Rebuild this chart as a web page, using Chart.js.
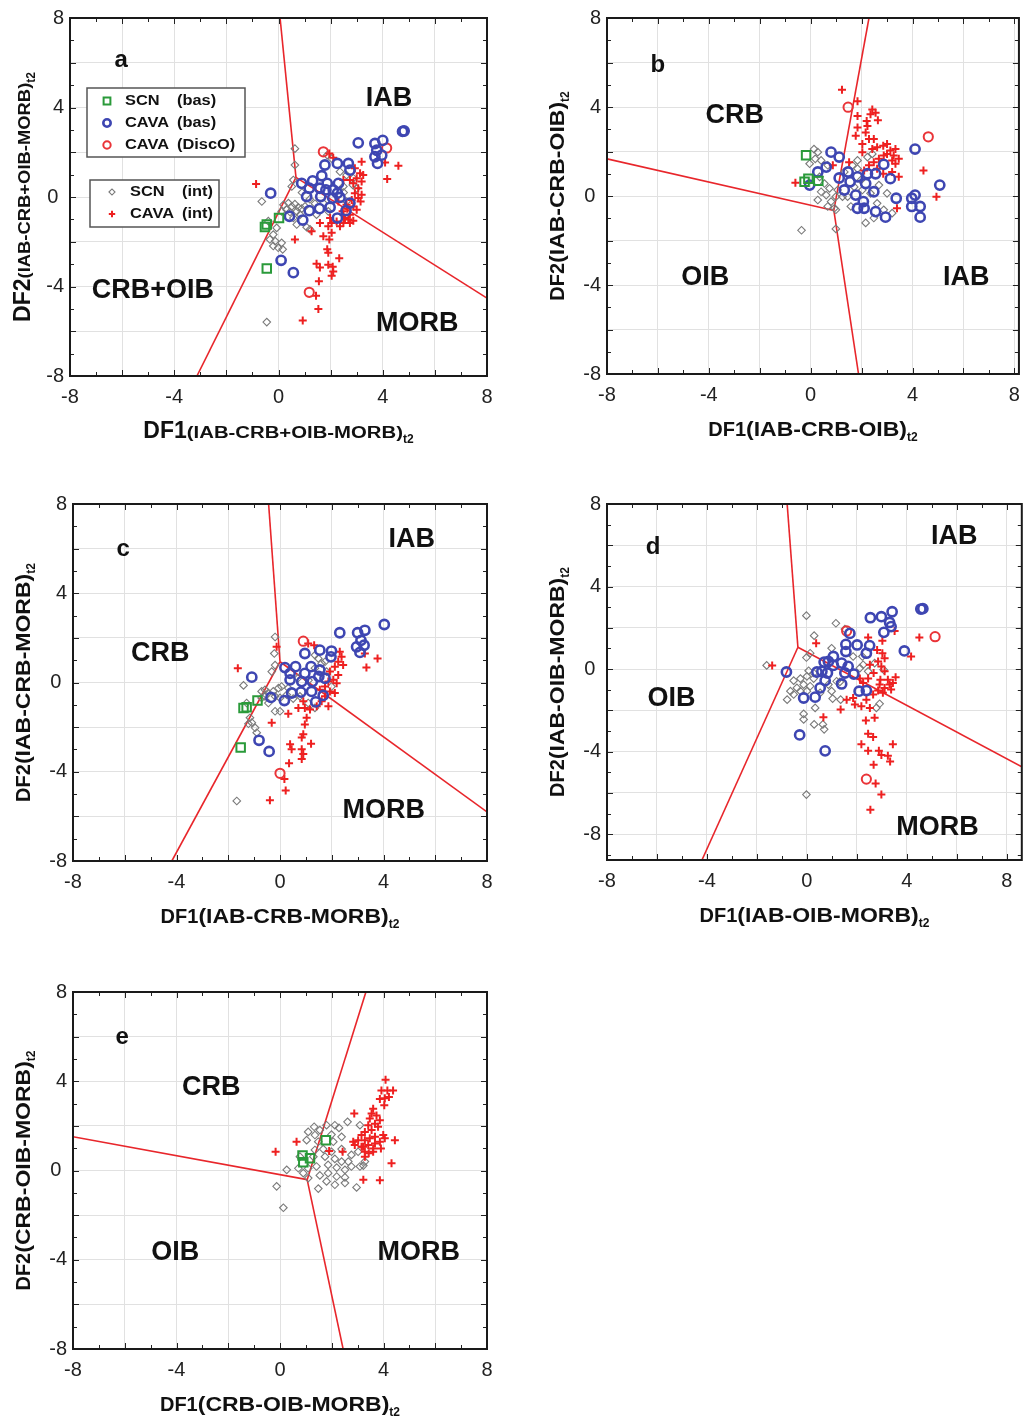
<!DOCTYPE html>
<html>
<head>
<meta charset="utf-8">
<script src="https://cdn.jsdelivr.net/npm/chart.js@4.4.1/dist/chart.umd.min.js"></script>
<style>
  body { margin: 0; background: #fff; width: 1029px; height: 1417px; position: relative; overflow: hidden; }
  canvas { position: absolute; }
</style>
</head>
<body>
<canvas id="pa" width="510" height="460" style="left:0px;top:0px"></canvas>
<canvas id="pb" width="509" height="460" style="left:520px;top:0px"></canvas>
<canvas id="pc" width="510" height="460" style="left:0px;top:486px"></canvas>
<canvas id="pd" width="509" height="460" style="left:520px;top:486px"></canvas>
<canvas id="pe" width="510" height="443" style="left:0px;top:974px"></canvas>
<script>
// axis ticks
var tickLabels = [-8, -4, 0, 4, 8];
var gridValues = [-8, -6, -4, -2, 0, 2, 4, 6, 8];

// ---- panel a : DF1/DF2 (IAB-CRB+OIB-MORB)
var aScnBas = [[0.02, -0.94], [-0.45, -1.23], [-0.52, -1.34], [-0.45, -3.2]];
var aCavaBas = [[4.76, 2.93], [4.82, 2.95], [3.06, 2.42], [3.70, 2.39], [4.0, 2.53], [3.77, 2.09], [3.96, 1.87],
  [3.70, 1.80], [3.80, 1.50], [2.26, 1.50], [1.78, 1.43], [2.68, 1.50], [2.74, 1.20], [1.31, 0.72], [1.66, 0.95],
  [1.87, 0.61], [2.30, 0.61], [0.89, 0.61], [1.18, 0.39], [1.59, 0.39], [1.82, 0.32], [2.10, 0.32], [2.26, 0.17],
  [1.08, 0.02], [1.62, 0.02], [2.08, -0.05], [2.36, -0.02], [2.74, -0.27], [1.57, -0.52], [1.98, -0.46],
  [1.18, -0.61], [2.59, -0.61], [2.26, -0.94], [0.42, -0.86], [0.93, -1.03], [-0.30, 0.17], [0.10, -2.83], [0.57, -3.38]];
var aCavaDisco = [[1.72, 2.02], [4.15, 2.19], [1.18, -4.26]];
var aScnInt = [[0.63, 2.16], [0.63, 1.43], [0.57, 0.76], [0.51, 0.47], [-0.64, -0.2], [0.19, -0.35], [0.38, -0.27],
  [0.51, -0.42], [0.63, -0.32], [0.76, -0.46], [0.31, -0.57], [0.12, -0.64], [0.44, -0.67], [0.70, -0.64],
  [0.89, -0.52], [1.02, -0.42], [0.83, -0.79], [0.57, -0.94], [0.70, -1.23], [1.08, -1.35], [1.21, -1.45],
  [-0.07, -1.38], [-0.20, -1.68], [-0.33, -1.90], [-0.13, -1.97], [0.12, -2.05], [-0.20, -2.19], [-0.01, -2.27],
  [0.16, -2.34], [-0.39, -1.08], [2.36, 1.13], [2.61, 0.98], [2.87, 0.84], [2.85, 0.54], [2.49, 0.47], [1.72, -0.27],
  [1.91, -0.64], [1.46, -0.79], [2.61, -0.20], [3.0, 0.39], [1.87, 1.87], [2.04, 1.72], [0.9, 0.2], [1.2, -0.1],
  [1.4, -0.3], [2.5, 0.2], [-0.45, -5.59]];
var aCavaInt = [[-0.86, 0.58], [1.95, 1.94], [2.10, 1.75], [3.19, 1.57], [4.60, 1.40], [4.17, 0.81], [4.09, 1.54],
  [2.93, 1.28], [3.13, 1.06], [3.25, 0.98], [3.0, 0.84], [3.19, 0.69], [2.87, 0.61], [3.06, 0.39], [2.93, 0.17],
  [3.19, 0.10], [3.06, -0.05], [2.81, -0.13], [3.15, -0.20], [2.61, -0.35], [2.87, -0.42], [3.0, -0.57],
  [2.74, -0.79], [2.55, -0.94], [2.68, -1.01], [2.87, -1.06], [2.36, -1.31], [2.04, -1.16], [1.91, -1.31],
  [1.59, -1.16], [1.27, -1.53], [0.63, -1.90], [1.72, -1.75], [2.04, -1.60], [1.95, -1.90], [1.87, -2.34],
  [1.91, -2.49], [2.33, -2.74], [1.46, -2.98], [1.91, -3.03], [2.08, -3.12], [1.59, -3.15], [2.10, -3.33],
  [2.04, -3.52], [1.55, -3.77], [1.44, -4.41], [1.53, -5.0], [0.93, -5.52], [1.98, -0.94], [2.23, -1.09],
  [2.49, -0.79], [2.46, -0.64], [2.64, -0.52], [2.30, -0.20], [2.49, 0.76], [2.74, 0.76], [2.49, -1.16], [2.74, -1.16]];
var aLines = [[[0.06, 8], [0.67, 0.88]], [[0.67, 0.88], [8, -4.52]], [[0.67, 0.88], [-3.13, -8]]];

// ---- panel b : DF1/DF2 (IAB-CRB-OIB)
var bScnBas = [[-0.18, 1.83], [-0.24, 0.64], [-0.09, 0.78], [0.30, 0.68]];
var bCavaBas = [[0.80, 1.97], [1.12, 1.75], [0.61, 1.30], [0.28, 1.08], [-0.04, 0.49], [1.12, 0.81], [1.47, 1.08],
  [1.84, 0.86], [2.23, 1.0], [2.55, 1.0], [2.87, 1.42], [3.13, 0.78], [1.32, 0.27], [1.55, 0.64], [1.77, 0.04],
  [2.16, 0.56], [2.48, 0.19], [2.07, -0.25], [1.84, -0.55], [2.10, -0.55], [2.55, -0.70], [2.94, -0.95],
  [3.36, -0.10], [4.10, 2.11], [5.07, 0.49], [4.10, 0.04], [3.97, -0.10], [4.30, -0.47], [3.97, -0.47], [4.30, -0.95]];
var bCavaDisco = [[1.47, 3.99], [4.62, 2.66]];
var bScnInt = [[0.13, 2.11], [0.28, 1.97], [0.18, 1.67], [-0.04, 1.45], [0.41, 1.60], [0.67, 1.38], [0.35, 0.86],
  [0.54, 0.56], [0.74, 0.34], [0.41, 0.19], [0.28, -0.18], [0.61, 0.04], [0.80, -0.25], [0.99, -0.03], [0.67, -0.47],
  [0.93, -0.55], [1.06, 0.27], [1.25, -0.03], [0.99, -0.62], [2.16, -1.21], [2.48, -0.99], [2.87, -0.62],
  [2.61, -0.33], [2.35, 0.12], [2.03, 0.27], [1.97, 0.71], [2.23, 1.75], [2.42, 1.89], [1.64, 1.38], [1.84, 1.60],
  [2.68, 0.49], [3.0, 0.12], [3.20, -0.77], [-0.36, -1.54], [0.99, -1.48], [1.32, 1.08], [1.71, 0.41], [1.84, 1.23],
  [1.45, -0.03], [1.58, -0.47]];
var bCavaInt = [[1.23, 4.78], [1.84, 4.26], [1.84, 3.59], [1.84, 3.08], [1.77, 2.71], [2.23, 3.15], [2.42, 3.89],
  [2.35, 3.67], [2.55, 3.74], [2.64, 3.40], [2.20, 3.37], [2.16, 2.85], [2.29, 2.56], [2.03, 2.34], [2.48, 2.56],
  [2.42, 2.11], [2.03, 1.97], [2.61, 2.19], [2.85, 2.26], [3.0, 2.34], [3.13, 2.04], [3.0, 1.89], [3.33, 2.11],
  [3.26, 1.82], [2.87, 1.82], [2.68, 1.67], [3.20, 1.60], [3.33, 1.45], [3.46, 1.67], [2.48, 1.52], [2.29, 1.38],
  [2.61, 1.23], [2.10, 1.15], [3.20, 1.08], [3.46, 0.86], [2.85, 1.0], [3.39, -0.55], [4.43, 1.15], [4.94, -0.03],
  [1.51, 1.52], [0.87, 1.38], [-0.60, 0.60]];
var bLines = [[[2.29, 8], [0.91, -0.65]], [[0.91, -0.65], [-8, 1.67]], [[0.91, -0.65], [1.88, -8]]];

// ---- panel c : DF1/DF2 (IAB-CRB-MORB)
var cScnBas = [[-1.41, -1.14], [-1.29, -1.11], [-0.87, -0.81], [-1.52, -2.91]];
var cCavaBas = [[4.03, 2.60], [3.28, 2.34], [3.0, 2.23], [3.13, 1.89], [3.25, 1.67], [2.96, 1.60], [3.09, 1.35],
  [2.31, 2.23], [1.99, 1.41], [1.54, 1.45], [1.97, 1.15], [0.96, 1.30], [0.60, 0.71], [0.19, 0.67], [1.20, 0.71],
  [1.54, 0.56], [0.96, 0.41], [0.39, 0.41], [0.39, 0.12], [0.84, 0.04], [1.25, 0.04], [1.50, 0.27], [1.74, 0.19],
  [1.22, -0.40], [0.81, -0.43], [0.45, -0.47], [1.67, -0.58], [0.17, -0.81], [1.38, -0.87], [-0.35, -0.67],
  [-1.09, 0.24], [-0.81, -2.59], [-0.42, -3.09]];
var cCavaDisco = [[0.90, 1.85], [0.0, -4.07]];
var cScnInt = [[-0.19, 2.04], [-0.22, 1.30], [-0.19, 0.78], [-0.32, 0.49], [-1.41, -0.13], [-0.71, -0.40],
  [-0.58, -0.33], [-0.45, -0.47], [-0.26, -0.40], [-0.06, -0.25], [0.06, -0.18], [-0.19, -0.62], [0.0, -0.69],
  [0.26, -0.55], [0.32, -0.25], [-0.58, -0.62], [-0.71, -0.69], [-0.45, -0.92], [-0.19, -1.29], [0.0, -1.29],
  [-1.29, -0.92], [-1.16, -1.58], [-1.09, -1.80], [-0.96, -2.03], [-1.22, -1.85], [-0.90, -2.25], [0.51, -0.72],
  [1.35, 0.64], [1.61, 0.86], [1.48, 1.08], [1.74, 0.93], [1.35, 1.23], [1.80, 0.49], [1.99, -0.18], [0.77, -0.62],
  [1.09, -0.92], [1.35, -1.14], [0.7, 0.2], [1.1, 0.1], [-1.67, -5.31]];
var cCavaInt = [[-1.63, 0.64], [-0.13, 1.60], [1.09, 1.75], [1.32, 1.67], [2.31, 1.38], [2.38, 1.15], [2.25, 0.93],
  [2.44, 0.78], [2.12, 0.71], [1.93, 0.49], [2.25, 0.34], [2.06, 0.12], [1.87, 0.04], [2.19, -0.03], [1.74, -0.18],
  [1.54, -0.33], [1.93, -0.40], [2.12, -0.47], [1.74, -0.62], [1.61, -0.84], [1.87, -1.06], [1.42, -1.06],
  [1.16, -1.21], [0.96, -1.14], [0.90, -0.84], [0.71, -1.14], [0.32, -1.40], [-0.32, -1.80], [1.03, -1.58],
  [0.96, -1.88], [0.90, -2.32], [0.84, -2.47], [1.20, -2.74], [0.39, -2.77], [0.45, -2.99], [0.84, -2.99],
  [0.90, -3.21], [0.84, -3.43], [0.35, -3.62], [0.17, -4.32], [0.22, -4.84], [-0.39, -5.28], [3.34, 0.67],
  [3.77, 1.08], [3.28, 1.30]];
var cLines = [[[-0.44, 8], [0, 0.93]], [[0, 0.93], [8, -5.8]], [[0, 0.93], [-4.18, -8]]];

// ---- panel d : DF1/DF2 (IAB-OIB-MORB)
var dScnBas = [];
var dCavaBas = [[4.56, 2.91], [4.64, 2.93], [2.54, 2.49], [2.98, 2.54], [3.41, 2.78], [3.31, 2.26], [3.37, 2.06],
  [3.08, 1.78], [3.90, 0.88], [1.72, 1.73], [1.56, 1.20], [2.01, 1.17], [2.51, 1.14], [2.38, 0.77], [1.56, 0.85],
  [1.06, 0.61], [0.86, 0.37], [0.69, 0.34], [1.39, 0.29], [1.06, 0.18], [1.65, 0.13], [0.60, -0.11], [0.40, -0.14],
  [0.82, -0.19], [1.52, -0.19], [1.88, -0.24], [0.73, -0.56], [1.39, -0.72], [0.53, -0.91], [0.33, -1.36],
  [-0.13, -1.40], [2.09, -1.07], [2.38, -1.04], [-0.82, -0.14], [-0.29, -3.19], [0.73, -3.96]];
var dCavaDisco = [[1.59, 1.85], [5.13, 1.57], [2.38, -5.33]];
var dScnInt = [[-0.02, 2.59], [1.16, 2.22], [0.29, 1.62], [-1.61, 0.18], [-0.02, 0.56], [0.13, 0.77], [0.99, 1.01],
  [1.52, 1.94], [2.22, 0.61], [-0.53, -0.56], [-0.26, -0.46], [0.0, -0.35], [0.27, -0.46], [-0.40, -0.91],
  [-0.13, -0.75], [0.13, -0.83], [-0.66, -1.07], [-0.26, -1.07], [0.0, -1.07], [-0.79, -1.48], [-0.53, -1.23],
  [0.53, -1.15], [0.99, -1.07], [1.03, -1.43], [1.35, -1.48], [1.19, -0.59], [0.86, -0.75], [0.33, -1.88],
  [-0.13, -2.17], [-0.13, -2.44], [0.29, -2.68], [0.64, -2.68], [0.69, -2.92], [0.07, -0.08], [0.27, -0.19],
  [1.85, 0.61], [2.12, 0.05], [2.45, -0.11], [2.78, -1.88], [2.91, -1.68], [1.32, -0.62], [2.25, 0.21],
  [3.07, -0.03], [2.71, 0.29], [-0.02, -6.08]];
var dCavaInt = [[-1.39, 0.18], [0.37, 1.25], [2.45, 1.53], [3.51, 1.85], [4.50, 1.53], [4.17, 0.61], [3.02, 1.37],
  [2.81, 0.93], [3.02, 0.77], [3.11, 0.53], [2.85, 0.37], [2.52, 0.21], [2.98, 0.13], [3.11, -0.11], [2.67, -0.19],
  [2.45, -0.46], [2.12, -0.46], [2.25, -0.67], [2.94, -0.51], [3.24, -0.51], [3.55, -0.40], [3.31, -0.75],
  [3.11, -0.91], [2.85, -1.04], [3.04, -1.15], [3.37, -0.99], [3.44, -0.67], [2.91, -0.75], [2.65, -1.23],
  [2.38, -1.48], [1.85, -1.40], [1.59, -1.48], [1.35, -1.96], [1.92, -1.72], [2.18, -1.80], [2.52, -1.88],
  [0.66, -2.33], [2.36, -2.49], [2.71, -2.36], [2.45, -3.13], [2.65, -3.29], [2.18, -3.64], [2.45, -3.96],
  [2.88, -3.96], [2.98, -4.16], [3.24, -4.20], [3.44, -3.64], [3.33, -4.48], [2.67, -4.64], [2.75, -5.54],
  [2.98, -6.08], [2.54, -6.82]];
var dLines = [[[-0.79, 8], [-0.36, 1.06]], [[-0.36, 1.06], [8.6, -4.73]], [[-0.36, 1.06], [-4.2, -9.25]]];

// ---- panel e : DF1/DF2 (CRB-OIB-MORB)
var eScnBas = [[0.87, 0.67], [1.16, 0.55], [0.90, 0.37], [1.77, 1.36]];
var eScnInt = [[1.32, 1.96], [1.54, 1.81], [1.80, 2.03], [2.12, 2.03], [2.28, 1.91], [2.61, 2.18], [3.09, 2.03],
  [1.09, 1.73], [1.35, 1.59], [1.99, 1.61], [2.38, 1.51], [1.03, 1.36], [1.48, 1.29], [2.06, 1.29], [2.38, 0.96],
  [2.76, 0.70], [3.02, 0.84], [1.35, 0.92], [1.67, 0.96], [1.99, 0.84], [0.77, 0.62], [1.29, 0.62], [1.74, 0.62],
  [2.12, 0.52], [2.38, 0.40], [2.76, 0.18], [3.22, 0.22], [0.26, 0.03], [0.71, 0.10], [1.09, 0.10], [1.41, 0.18],
  [1.86, 0.25], [2.19, 0.13], [2.51, 0.03], [0.90, -0.12], [1.09, -0.34], [1.54, -0.22], [1.86, -0.12],
  [2.19, -0.27], [2.51, -0.31], [1.80, -0.49], [2.12, -0.64], [2.51, -0.56], [2.96, -0.76], [1.48, -0.81],
  [-0.13, -0.71], [0.13, -1.67], [3.28, 0.40], [3.09, 0.18], [2.64, 0.40]];
var eCavaInt = [[-0.17, 0.84], [0.64, 1.29], [1.90, 0.87], [2.42, 0.84], [2.87, 2.55], [4.08, 4.07], [3.92, 3.59],
  [4.15, 3.59], [4.37, 3.59], [3.86, 3.21], [4.05, 3.24], [4.21, 3.29], [4.03, 2.92], [3.60, 2.77], [3.54, 2.55],
  [3.73, 2.47], [3.86, 2.25], [3.47, 2.33], [3.67, 2.10], [3.41, 2.03], [3.79, 1.96], [3.28, 1.73], [3.54, 1.81],
  [3.15, 1.59], [3.02, 1.36], [2.83, 1.29], [3.28, 1.36], [3.47, 1.44], [3.67, 1.51], [3.41, 1.14], [3.21, 1.07],
  [3.60, 0.99], [3.86, 1.29], [3.99, 1.59], [4.05, 1.44], [3.90, 0.99], [3.67, 1.21], [3.43, 0.77], [3.28, 0.84],
  [3.15, 1.07], [2.89, 1.14], [3.28, 0.62], [4.44, 1.36], [4.31, 0.33], [3.22, -0.41], [3.86, -0.44], [3.60, 0.84]];
var eLines = [[[3.32, 8], [1.05, -0.41]], [[1.05, -0.41], [-8, 1.51]], [[1.05, -0.41], [2.44, -8]]];

var FONT = 'Arial, "Liberation Sans", sans-serif';
var RED_LINE = '#e8262b';

var series = {
  scnBas: { label: 'SCN (bas)', pointStyle: 'rect', radius: 6, color: '#2a9a3a', width: 2, order: 1 },
  cavaBas: { label: 'CAVA (bas)', pointStyle: 'circle', radius: 4.6, color: '#3e46b2', width: 2.6, order: 2 },
  cavaDisco: { label: 'CAVA (DiscO)', pointStyle: 'circle', radius: 4.6, color: '#ea3438', width: 2, order: 2 },
  scnInt: { label: 'SCN (int)', pointStyle: 'rectRot', radius: 3.8, color: '#7a7a7a', width: 1.1, order: 5 },
  cavaInt: { label: 'CAVA (int)', pointStyle: 'cross', radius: 4, color: '#ee2020', width: 2, order: 4 }
};

function pts(arr) {
  return arr.map(function (p) { return { x: p[0], y: p[1] }; });
}

function scatterSet(key, arr) {
  var s = series[key];
  return {
    label: s.label,
    data: pts(arr),
    pointStyle: s.pointStyle,
    pointRadius: s.radius,
    pointBorderColor: s.color,
    pointBackgroundColor: 'rgba(0,0,0,0)',
    pointBorderWidth: s.width,
    borderColor: s.color,
    showLine: false,
    order: s.order
  };
}

function lineSet(seg) {
  return {
    data: pts(seg),
    showLine: true,
    borderColor: RED_LINE,
    borderWidth: 1.6,
    pointRadius: 0,
    fill: false,
    order: 10
  };
}

function drawTitle(ctx, parts, cx, cy, rot) {
  var total = 0;
  parts.forEach(function (p) {
    ctx.font = 'bold ' + p.size + 'px ' + FONT;
    p.w = ctx.measureText(p.text).width * (p.sx || 1);
    total += p.w;
  });
  ctx.save();
  ctx.translate(cx, cy);
  ctx.rotate(rot);
  ctx.fillStyle = '#111';
  ctx.textBaseline = 'alphabetic';
  ctx.textAlign = 'left';
  var x = -total / 2;
  parts.forEach(function (p) {
    ctx.save();
    ctx.translate(x, 8 + (p.dy || 0));
    ctx.scale(p.sx || 1, 1);
    ctx.font = 'bold ' + p.size + 'px ' + FONT;
    ctx.fillText(p.text, 0, 0);
    ctx.restore();
    x += p.w;
  });
  ctx.restore();
}

function titleParts(df, paren, big, small, sx) {
  return [
    { text: df, size: big },
    { text: paren, size: small, sx: sx },
    { text: 't2', size: 12, dy: 5 }
  ];
}

function drawMarker(ctx, key, x, y) {
  var s = series[key];
  ctx.save();
  ctx.strokeStyle = s.color;
  ctx.fillStyle = 'rgba(0,0,0,0)';
  ctx.lineWidth = s.width;
  Chart.helpers.drawPoint(ctx, { pointStyle: s.pointStyle, radius: s.radius * 0.8, rotation: 0, borderWidth: s.width }, x, y);
  ctx.restore();
}

function legendText(ctx, text, x, y) {
  ctx.save();
  ctx.fillStyle = '#111';
  ctx.font = 'bold 14px ' + FONT;
  ctx.textAlign = 'left';
  ctx.textBaseline = 'middle';
  ctx.translate(x, y);
  ctx.scale(1.17, 1);
  ctx.fillText(text, 0, 0);
  ctx.restore();
}

function drawLegend(ctx, lg) {
  lg.boxes.forEach(function (b) {
    ctx.fillStyle = '#fff';
    ctx.fillRect(b.x, b.y, b.w, b.h);
    ctx.strokeStyle = '#555';
    ctx.lineWidth = 1.5;
    ctx.strokeRect(b.x, b.y, b.w, b.h);
    b.rows.forEach(function (r, i) {
      var y = b.rowY[i];
      drawMarker(ctx, r[0], b.markX, y);
      legendText(ctx, r[1], b.textX, y);
      legendText(ctx, r[2], b.textX + 52, y);
    });
  });
}

var decor = {
  id: 'decor',
  afterDraw: function (chart, args, opts) {
    var ctx = chart.ctx, a = chart.chartArea, xs = chart.scales.x, ys = chart.scales.y;
    ctx.save();
    // inside tick marks on all four sides
    ctx.strokeStyle = '#222';
    ctx.lineWidth = 1;
    ctx.beginPath();
    for (var v = Math.ceil(xs.min); v <= Math.floor(xs.max); v++) {
      var px = Math.round(xs.getPixelForValue(v)) + 0.5;
      var len = v % 2 === 0 ? 6 : 4;
      ctx.moveTo(px, a.bottom); ctx.lineTo(px, a.bottom - len);
      ctx.moveTo(px, a.top); ctx.lineTo(px, a.top + len);
    }
    for (v = Math.ceil(ys.min); v <= Math.floor(ys.max); v++) {
      var py = Math.round(ys.getPixelForValue(v)) + 0.5;
      len = v % 2 === 0 ? 6 : 4;
      ctx.moveTo(a.left, py); ctx.lineTo(a.left + len, py);
      ctx.moveTo(a.right, py); ctx.lineTo(a.right - len, py);
    }
    ctx.stroke();
    // frame
    ctx.lineWidth = 2;
    ctx.strokeStyle = '#1a1a1a';
    ctx.strokeRect(a.left, a.top, a.right - a.left, a.bottom - a.top);
    // field names and panel letter
    ctx.fillStyle = '#111';
    ctx.textAlign = 'center';
    ctx.textBaseline = 'middle';
    ctx.font = 'bold 27px ' + FONT;
    opts.regions.forEach(function (r) {
      ctx.fillText(r[0], xs.getPixelForValue(r[1]), ys.getPixelForValue(r[2]));
    });
    ctx.font = 'bold 24px ' + FONT;
    ctx.fillText(opts.letter[0], xs.getPixelForValue(opts.letter[1]), ys.getPixelForValue(opts.letter[2]));
    // axis titles
    drawTitle(ctx, opts.xTitle, (a.left + a.right) / 2, a.bottom + 54, 0);
    drawTitle(ctx, opts.yTitle, opts.yTitleX, (a.top + a.bottom) / 2, -Math.PI / 2);
    if (opts.legend) drawLegend(ctx, opts.legend);
    ctx.restore();
  }
};

function makePanel(id, p) {
  var datasets = [];
  p.lines.forEach(function (seg) { datasets.push(lineSet(seg)); });
  Object.keys(p.sets).forEach(function (k) {
    if (p.sets[k].length) datasets.push(scatterSet(k, p.sets[k]));
  });
  var tickFont = { family: FONT, size: 20 };
  new Chart(document.getElementById(id).getContext('2d'), {
    type: 'scatter',
    data: { datasets: datasets },
    plugins: [decor],
    options: {
      responsive: false,
      animation: false,
      events: [],
      layout: { padding: p.padding },
      scales: {
        x: {
          type: 'linear',
          min: p.xRange[0],
          max: p.xRange[1],
          bounds: 'data',
          afterBuildTicks: function (axis) { axis.ticks = gridValues.map(function (v) { return { value: v }; }); },
          afterFit: function (axis) { axis.height = p.xAxisH; },
          grid: { color: '#e1e1e1', lineWidth: 1, drawTicks: false },
          border: { display: false },
          ticks: {
            autoSkip: false,
            maxRotation: 0,
            padding: 9,
            color: '#222',
            font: tickFont,
            callback: function (v) { return tickLabels.indexOf(v) >= 0 ? String(v) : ''; }
          }
        },
        y: {
          type: 'linear',
          min: p.yRange[0],
          max: p.yRange[1],
          bounds: 'data',
          afterBuildTicks: function (axis) { axis.ticks = gridValues.map(function (v) { return { value: v }; }); },
          afterFit: function (axis) { axis.width = p.yAxisW; },
          grid: { color: '#e1e1e1', lineWidth: 1, drawTicks: false },
          border: { display: false },
          ticks: {
            autoSkip: false,
            padding: 6,
            color: '#222',
            font: tickFont,
            callback: function (v) { return tickLabels.indexOf(v) >= 0 ? (v === 0 ? '0 ' : String(v)) : ''; }
          }
        }
      },
      plugins: {
        legend: { display: false },
        tooltip: { enabled: false },
        decor: {
          regions: p.regions,
          letter: p.letter,
          xTitle: p.xTitle,
          yTitle: p.yTitle,
          yTitleX: p.yTitleX,
          legend: p.legend
        }
      }
    }
  });
}

makePanel('pa', {
  padding: { left: 0, top: 13, right: 23, bottom: 0 },
  yAxisW: 70, xAxisH: 84,
  xRange: [-8, 8], yRange: [-8, 8],
  lines: aLines,
  sets: { scnInt: aScnInt, cavaInt: aCavaInt, cavaBas: aCavaBas, cavaDisco: aCavaDisco, scnBas: aScnBas },
  regions: [['IAB', 4.24, 4.39], ['CRB+OIB', -4.82, -4.16], ['MORB', 5.32, -5.66]],
  letter: ['a', -6.04, 6.1],
  xTitle: titleParts('DF1', '(IAB-CRB+OIB-MORB)', 23, 16, 1.27),
  yTitle: titleParts('DF2', '(IAB-CRB+OIB-MORB)', 23, 16, 1.15),
  yTitleX: 22,
  legend: {
    boxes: [
      { x: 87, y: 88, w: 158, h: 69, markX: 107, textX: 125, rowY: [101, 123, 145],
        rows: [['scnBas', 'SCN', '(bas)'], ['cavaBas', 'CAVA', '(bas)'], ['cavaDisco', 'CAVA', '(DiscO)']] },
      { x: 90, y: 180, w: 129, h: 47, markX: 112, textX: 130, rowY: [192, 214],
        rows: [['scnInt', 'SCN', '(int)'], ['cavaInt', 'CAVA', '(int)']] }
    ]
  }
});

makePanel('pb', {
  padding: { left: 0, top: 13, right: 6, bottom: 0 },
  yAxisW: 87, xAxisH: 86,
  xRange: [-8, 8.18], yRange: [-8, 8],
  lines: bLines,
  sets: { scnInt: bScnInt, cavaInt: bCavaInt, cavaBas: bCavaBas, cavaDisco: bCavaDisco, scnBas: bScnBas },
  regions: [['CRB', -2.98, 3.6], ['OIB', -4.14, -3.67], ['IAB', 6.11, -3.67]],
  letter: ['b', -6.0, 5.87],
  xTitle: titleParts('DF1', '(IAB-CRB-OIB)', 20, 20, 1.15),
  yTitle: titleParts('DF2', '(IAB-CRB-OIB)', 20, 20, 1.15),
  yTitleX: 36
});

makePanel('pc', {
  padding: { left: 0, top: 15, right: 23, bottom: 0 },
  yAxisW: 73, xAxisH: 85,
  xRange: [-8, 8], yRange: [-8, 8],
  lines: cLines,
  sets: { scnInt: cScnInt, cavaInt: cCavaInt, cavaBas: cCavaBas, cavaDisco: cCavaDisco, scnBas: cScnBas },
  regions: [['IAB', 5.09, 6.39], ['CRB', -4.63, 1.29], ['MORB', 4.01, -5.73]],
  letter: ['c', -6.06, 5.95],
  xTitle: titleParts('DF1', '(IAB-CRB-MORB)', 20, 20, 1.15),
  yTitle: titleParts('DF2', '(IAB-CRB-MORB)', 20, 20, 1.15),
  yTitleX: 22
});

makePanel('pd', {
  padding: { left: 0, top: 15, right: 4, bottom: 0 },
  yAxisW: 87, xAxisH: 86,
  xRange: [-8, 8.6], yRange: [-9.25, 8],
  lines: dLines,
  sets: { scnInt: dScnInt, cavaInt: dCavaInt, cavaBas: dCavaBas, cavaDisco: dCavaDisco, scnBas: dScnBas },
  regions: [['IAB', 5.9, 6.42], ['OIB', -5.42, -1.45], ['MORB', 5.23, -7.7]],
  letter: ['d', -6.16, 5.89],
  xTitle: titleParts('DF1', '(IAB-OIB-MORB)', 20, 20, 1.15),
  yTitle: titleParts('DF2', '(IAB-OIB-MORB)', 20, 20, 1.15),
  yTitleX: 36
});

makePanel('pe', {
  padding: { left: 0, top: 15, right: 23, bottom: 0 },
  yAxisW: 73, xAxisH: 68,
  xRange: [-8, 8], yRange: [-8, 8],
  lines: eLines,
  sets: { scnInt: eScnInt, cavaInt: eCavaInt, scnBas: eScnBas },
  regions: [['CRB', -2.66, 3.73], ['OIB', -4.05, -3.69], ['MORB', 5.36, -3.69]],
  letter: ['e', -6.1, 5.96],
  xTitle: titleParts('DF1', '(CRB-OIB-MORB)', 20, 20, 1.15),
  yTitle: titleParts('DF2', '(CRB-OIB-MORB)', 20, 20, 1.15),
  yTitleX: 22
});
</script>
</body>
</html>
